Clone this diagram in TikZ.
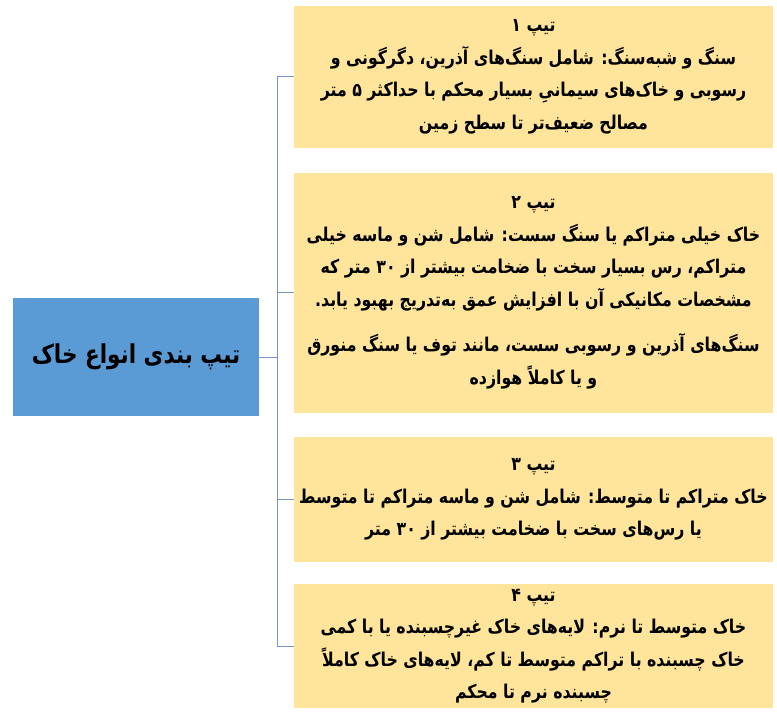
\documentclass[tikz,border=0pt]{standalone}
\usepackage{fontspec}
\newfontfamily\fa[Script=Arabic, FakeStretch=0.83]{DejaVu Sans}
\TeXXeTstate=1
\definecolor{boxfill}{HTML}{FFE59B}
\definecolor{rootfill}{HTML}{5B9BD5}
\definecolor{connline}{HTML}{7A93C8}
\newcommand\rl[1]{\beginR #1\endR}
\begin{document}
\begin{tikzpicture}[x=1pt,y=-1pt,
  typebox/.style={fill=boxfill, draw=none, minimum width=479pt, inner sep=0pt,
    align=center, font={\fa\bfseries\fontsize{19}{32.5}\selectfont}, text=black},
  rootbox/.style={fill=rootfill, draw=none, minimum width=246pt, minimum height=118pt,
    inner sep=0pt, font={\fa\bfseries\fontsize{26}{30}\selectfont}, text=black},
  conn/.style={draw=connline, line width=1pt}]
\useasboundingbox (0,0) rectangle (777,714);
\node[rootbox] (root) at (136,357) {\rl{تیپ بندی انواع خاک}};
\node[typebox, minimum height=142pt] (t1) at (533.5,77) {%
\rl{تیپ ۱}\\
\rl{سنگ و شبه^^^^200cسنگ: شامل سنگ^^^^200cهای آذرین، دگرگونی و}\\
\rl{رسوبی و خاک^^^^200cهای سیمانیِ بسیار محکم با حداکثر ۵ متر}\\
\rl{مصالح ضعیف^^^^200cتر تا سطح زمین}};
\node[typebox, minimum height=240pt] (t2) at (533.5,293) {%
\rl{تیپ ۲}\\
\rl{خاک خیلی متراکم یا سنگ سست: شامل شن و ماسه خیلی}\\
\rl{متراکم، رس بسیار سخت با ضخامت بیشتر از ۳۰ متر که}\\
\rl{مشخصات مکانیکی آن با افزایش عمق به^^^^200cتدریج بهبود یابد.}\\[13pt]
\rl{سنگ^^^^200cهای آذرین و رسوبی سست، مانند توف یا سنگ منورق}\\
\rl{و یا کاملاً هوازده}};
\node[typebox, minimum height=125pt] (t3) at (533.5,499.5) {%
\rl{تیپ ۳}\\
\rl{خاک متراکم تا متوسط: شامل شن و ماسه متراکم تا متوسط}\\
\rl{یا رس^^^^200cهای سخت با ضخامت بیشتر از ۳۰ متر}};
\node[typebox, minimum height=124pt] (t4) at (533.5,646) {%
\rl{تیپ ۴}\\
\rl{خاک متوسط تا نرم: لایه^^^^200cهای خاک غیرچسبنده یا با کمی}\\
\rl{خاک چسبنده با تراکم متوسط تا کم، لایه^^^^200cهای خاک کاملاً}\\
\rl{چسبنده نرم تا محکم}};
\foreach \t in {t1,t2,t3,t4}
  \draw[conn] (root.east) -- ++(18,0) |- (\t.west);
\end{tikzpicture}
\end{document}
